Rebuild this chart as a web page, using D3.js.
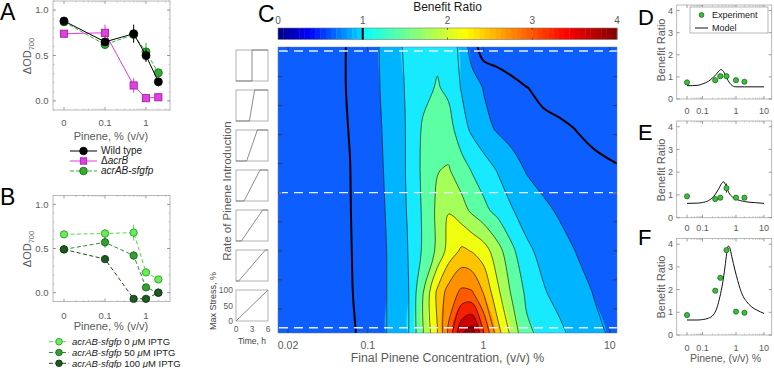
<!DOCTYPE html>
<html><head><meta charset="utf-8">
<script src="https://cdn.jsdelivr.net/npm/d3@7/dist/d3.min.js"></script>
<style>
html,body{margin:0;padding:0;background:#fff;}
svg text{font-family:"Liberation Sans", Arial, Helvetica, sans-serif;}
</style></head><body>
<svg id="fig" width="774" height="368"></svg>
<script>
// ======================= DATA =======================
// Panel A
const pinene = [0, 0.1, 0.5, 1, 2];
const wildType = [0.88, 0.65, 0.74, 0.50, 0.21];
const wildTypeErr = [0.03, 0.04, 0.10, 0.07, 0.05];
const deltaAcrB = [0.74, 0.75, 0.17, 0.03, 0.04];
const deltaAcrBErr = [0.03, 0.09, 0.08, 0.02, 0.02];
const acrABsfgfp = [0.87, 0.62, 0.73, 0.54, 0.31];
const acrABsfgfpErr = [0.02, 0.05, 0.05, 0.10, 0.04];
// Panel B
const iptg0 = [0.66, 0.67, 0.68, 0.23, 0.15];
const iptg0Err = [0.02, 0.05, 0.09, 0.03, 0.02];
const iptg50 = [0.49, 0.57, 0.42, 0.06, 0.00];
const iptg50Err = [0.04, 0.06, 0.05, 0.03, 0.02];
const iptg100 = [0.49, 0.38, -0.07, -0.07, 0.00];
const iptg100Err = [0.03, 0.04, 0.02, 0.02, 0.02];
const abTicksX = [0, 0.1, 1];
const abTickLabelsX = ["0", "0.1", "1"];
const abTicksY = [0, 0.5, 1];
const abTickLabelsY = ["0.0", "0.5", "1.0"];

// Panel C : benefit ratio grid (rows: fast -> slow introduction, cols: final concentration)
const gridConc = [0.0163, 0.02, 0.03, 0.05, 0.07, 0.1, 0.13, 0.17, 0.22, 0.3, 0.4, 0.5, 0.65, 0.8, 1, 1.3, 1.7, 2.2, 3, 4, 5.5, 7.5, 11.4];
const benefitRow0 = [0.90,0.91,0.93,0.97,1.01,1.12,1.27,1.42,1.55,1.65,1.70,1.66,1.42,1.12,0.88,0.85,0.82,0.80,0.78,0.76,0.75,0.74,0.73];
const benefitRow1 = [0.90,0.91,0.93,0.97,1.01,1.11,1.26,1.40,1.53,1.68,1.77,1.70,1.48,1.38,1.24,1.15,1.07,1.005,0.95,0.92,0.90,0.88,0.86];
const benefitRow2 = [0.89,0.90,0.92,0.96,1.005,1.10,1.24,1.38,1.52,1.78,1.88,1.85,1.60,1.45,1.33,1.22,1.15,1.10,1.05,1.03,0.995,0.97,0.94];
const benefitRow3 = [0.89,0.90,0.92,0.96,0.998,1.10,1.22,1.38,1.52,1.80,1.99,2.02,1.85,1.73,1.62,1.48,1.35,1.23,1.15,1.10,1.06,1.03,1.01];
const benefitRow4 = [0.88,0.89,0.91,0.95,0.995,1.10,1.20,1.36,1.51,1.78,2.05,2.24,2.10,1.95,1.82,1.67,1.51,1.40,1.30,1.22,1.17,1.13,1.10];
const benefitRow5 = [0.88,0.89,0.90,0.94,0.99,1.09,1.19,1.33,1.49,1.78,2.05,2.35,2.55,2.49,2.38,2.10,1.80,1.55,1.43,1.34,1.24,1.18,1.12];
const benefitRow6 = [0.87,0.88,0.90,0.94,0.985,1.08,1.18,1.34,1.45,1.98,2.55,2.85,3.05,3.02,2.74,2.30,1.95,1.70,1.52,1.42,1.33,1.24,1.16];
const benefitRow7 = [0.86,0.87,0.90,0.93,0.97,1.06,1.19,1.33,1.45,1.98,2.49,3.05,3.72,3.90,3.28,2.60,2.15,1.80,1.68,1.55,1.42,1.30,1.20];
const benefitGrid = [benefitRow0, benefitRow1, benefitRow2, benefitRow3, benefitRow4, benefitRow5, benefitRow6, benefitRow7];
const fillLevels = [1.25, 1.5, 1.75, 2.0, 2.25, 2.5, 2.75, 3.0, 3.25, 3.5, 3.75];
const unityLevel = 1;
const cTicksX = [0.02, 0.1, 1, 10];
const cTickLabelsX = ["0.02", "0.1", "1", "10"];
const rateTicks = [1, 2, 3, 4, 5, 6, 7, 8, 9];
const colorbarTicks = [0, 1, 2, 3, 4];
const rampDurations = [0, 1, 2, 3, 4, 5, 6];   // hours of linear ramp (thumbnails)
const sliceRates = [0.12, 5, 9.65];             // dashed lines (D, E, F)

// Panels D-F
const expConc = [0, 0.24, 0.34, 0.52, 1, 2];
const expD = [0.75, 0.85, 1.03, 1.03, 0.85, 0.78];
const expDErr = [0.04, 0.05, 0.05, 0.05, 0.04, 0.08];
const expE = [0.94, 0.82, 0.88, 1.30, 0.88, 0.88];
const expEErr = [0.03, 0.03, 0.03, 0.20, 0.08, 0.05];
const expF = [0.88, 1.95, 2.52, 3.74, 1.03, 0.98];
const expFErr = [0.03, 0.05, 0.10, 0.06, 0.05, 0.08];
const modelDConc = [0, 0.05, 0.1, 0.15, 0.2, 0.25, 0.3, 0.36, 0.45, 0.55, 0.7, 0.85, 1, 2, 10];
const modelD = [0.60, 0.62, 0.68, 0.80, 0.95, 1.10, 1.24, 1.33, 1.18, 0.90, 0.66, 0.57, 0.55, 0.55, 0.55];
const modelEConc = [0, 0.05, 0.1, 0.15, 0.22, 0.3, 0.37, 0.42, 0.5, 0.6, 0.8, 1, 2, 5, 10];
const modelE = [0.63, 0.64, 0.67, 0.75, 0.95, 1.25, 1.50, 1.58, 1.42, 1.12, 0.90, 0.82, 0.71, 0.66, 0.63];
const modelFConc = [0, 0.05, 0.1, 0.15, 0.21, 0.27, 0.33, 0.4, 0.47, 0.53, 0.59, 0.65, 0.75, 0.93, 1.15, 1.39, 1.8, 2.4, 3.5, 5.5, 10];
const modelF = [0.66, 0.66, 0.68, 0.74, 0.88, 1.20, 1.68, 2.30, 3.00, 3.60, 3.92, 3.85, 3.45, 2.86, 2.40, 2.05, 1.70, 1.47, 1.25, 1.10, 0.95];
const defTicksX = [0, 0.1, 1, 10];
const defTickLabelsX = ["0", "0.1", "1", "10"];
const defTicksY = [0, 1, 2, 3, 4];

// ======================= STYLE =======================
const GRAY = "#5a5a5a", AXC = "#a9a9a9";
const bandColors = ["#00b4ff", "#17e9ff", "#5cffa3", "#a6ff59", "#f0ff10", "#ffc400", "#ff9000", "#ff5a00", "#f52000", "#cc0000", "#8f0000"];
const baseBlue = "#0d5efe";

const svg = d3.select("#fig");

function txt(x, y, s, o = {}) {
  const t = svg.append("text").attr("x", x).attr("y", y)
    .attr("font-size", o.size || 10).attr("fill", o.fill || GRAY)
    .attr("text-anchor", o.anchor || "start");
  if (o.rotate) t.attr("transform", `rotate(-90 ${x} ${y})`);
  if (Array.isArray(s)) {
    s.forEach(seg => {
      const ts = t.append("tspan").text(seg[0]);
      if (seg[1]) ts.attr("font-style", "italic");
      if (seg[2]) ts.attr("font-size", seg[2]);
      if (seg[3]) ts.attr("dy", seg[3]);
    });
  } else t.text(s);
  return t;
}
function hline(g, x1, x2, y, c, w) { g.append("line").attr("x1", x1).attr("x2", x2).attr("y1", y).attr("y2", y).attr("stroke", c).attr("stroke-width", w); }
function vline(g, x, y1, y2, c, w) { g.append("line").attr("x1", x).attr("x2", x).attr("y1", y1).attr("y2", y2).attr("stroke", c).attr("stroke-width", w); }

// ======================= PANELS A & B =======================
const xAB = d3.scaleLog().domain([0.01, 1]).range([64, 146]);
const pAB = v => xAB(v === 0 ? 0.01 : v);
const minorLog = [0.02,0.03,0.04,0.05,0.06,0.07,0.08,0.09,0.2,0.3,0.4,0.5,0.6,0.7,0.8,0.9,2,3];

function abAxes(top, bottom, y, tickBase) {
  const g = svg.append("g");
  g.append("rect").attr("x", 53).attr("y", top).attr("width", 117).attr("height", bottom - top)
    .attr("fill", "none").attr("stroke", AXC).attr("stroke-width", 0.8);
  minorLog.forEach(v => { vline(g, pAB(v), top, top + 1.5, AXC, 0.6); vline(g, pAB(v), bottom, bottom - 1.5, AXC, 0.6); });
  abTicksX.forEach((v, i) => {
    vline(g, pAB(v), top, top + 3, "#777", 0.7); vline(g, pAB(v), bottom, bottom - 3, "#777", 0.7);
    txt(pAB(v), tickBase, abTickLabelsX[i], { anchor: "middle", size: 9.5 });
  });
  d3.range(-0.1, 1.1001, 0.1).forEach(v => { hline(g, 53, 54.5, y(v), AXC, 0.6); hline(g, 170, 168.5, y(v), AXC, 0.6); });
  abTicksY.forEach((v, i) => {
    hline(g, 53, 56, y(v), "#777", 0.7); hline(g, 170, 167, y(v), "#777", 0.7);
    txt(48.5, y(v) + 3.4, abTickLabelsY[i], { anchor: "end", size: 9.5 });
  });
}
function series(xs, ys, errs, y, st) {
  const g = svg.append("g");
  const line = d3.line().x((d, i) => pAB(xs[i])).y(d => y(d));
  g.append("path").attr("d", line(ys)).attr("fill", "none").attr("stroke", st.line).attr("stroke-width", 1)
    .attr("stroke-dasharray", st.dash || null);
  ys.forEach((v, i) => vline(g, pAB(xs[i]), y(v - errs[i]), y(v + errs[i]), st.line, 1));
  ys.forEach((v, i) => {
    if (st.square) g.append("rect").attr("x", pAB(xs[i]) - 3.6).attr("y", y(v) - 3.6).attr("width", 7.2).attr("height", 7.2)
      .attr("fill", st.fill).attr("stroke", st.edge).attr("stroke-width", 0.8);
    else g.append("circle").attr("cx", pAB(xs[i])).attr("cy", y(v)).attr("r", st.r || 4)
      .attr("fill", st.fill).attr("stroke", st.edge).attr("stroke-width", 0.8);
  });
}
function legendRow(x1, x2, yy, st, label, size, tx) {
  const g = svg.append("g");
  g.append("line").attr("x1", x1).attr("x2", x2).attr("y1", yy).attr("y2", yy).attr("stroke", st.line)
    .attr("stroke-width", 1).attr("stroke-dasharray", st.dash || null);
  const cx = (x1 + x2) / 2;
  if (st.square) g.append("rect").attr("x", cx - 3.2).attr("y", yy - 3.2).attr("width", 6.4).attr("height", 6.4).attr("fill", st.fill).attr("stroke", st.edge).attr("stroke-width", 0.8);
  else g.append("circle").attr("cx", cx).attr("cy", yy).attr("r", st.legR || st.r || 3.8).attr("fill", st.fill).attr("stroke", st.edge).attr("stroke-width", 0.8);
  txt(tx, yy + 3.3, label, { size: size, fill: "#1a1a1a" });
}

const stWT = { line: "#000", fill: "#000", edge: "#000" };
const stAcrB = { line: "#e23ce2", fill: "#e040e0", edge: "#9a1a9a", square: true };
const stGfp = { line: "#35b035", fill: "#2fae2f", edge: "#1a5e1a", dash: "4,2" };
const st0 = { line: "#55dd44", fill: "#66ee55", edge: "#2c8a2c", dash: "4,2.5", r: 3.7, legR: 3.3 };
const st50 = { line: "#2e8b2e", fill: "#33a033", edge: "#1c5a1c", dash: "4,2.5", r: 3.7, legR: 3.3 };
const st100 = { line: "#1f4a1f", fill: "#1d5a1d", edge: "#0f2f0f", dash: "4,2.5", r: 3.7, legR: 3.3 };

// A
const yA = d3.scaleLinear().domain([-0.1, 1.1]).range([110, 1]);
abAxes(1, 110, yA, 126);
series(pinene, acrABsfgfp, acrABsfgfpErr, yA, stGfp);
series(pinene, deltaAcrB, deltaAcrBErr, yA, stAcrB);
series(pinene, wildType, wildTypeErr, yA, stWT);
txt(111, 140, "Pinene, % (v/v)", { anchor: "middle", size: 11 });
txt(31, 56, [["ΔOD"], ["700", false, 7.5, 3]], { anchor: "middle", size: 11, rotate: true });
legendRow(70, 97, 151, stWT, "Wild type", 10, 101);
legendRow(70, 97, 161, stAcrB, [["Δ"], ["acrB", true]], 10, 101);
legendRow(70, 97, 171, stGfp, [["acrAB-sfgfp", true]], 10, 101);
txt(0, 20, "A", { size: 23, fill: "#000" });

// B
const yB = d3.scaleLinear().domain([-0.1, 1.1]).range([301.5, 195.5]);
abAxes(195.5, 301.5, yB, 318.5);
series(pinene, iptg0, iptg0Err, yB, st0);
series(pinene, iptg50, iptg50Err, yB, st50);
series(pinene, iptg100, iptg100Err, yB, st100);
txt(111, 330, "Pinene, % (v/v)", { anchor: "middle", size: 11 });
txt(31, 249, [["ΔOD"], ["700", false, 7.5, 3]], { anchor: "middle", size: 11, rotate: true });
legendRow(49, 69, 341.7, st0, [["acrAB-sfgfp", true], [" 0 "], ["μ", true], ["M IPTG"]], 9.5, 72);
legendRow(49, 69, 352.5, st50, [["acrAB-sfgfp", true], [" 50 "], ["μ", true], ["M IPTG"]], 9.5, 72);
legendRow(49, 69, 363.3, st100, [["acrAB-sfgfp", true], [" 100 "], ["μ", true], ["M IPTG"]], 9.5, 72);
txt(0, 205, "B", { size: 23, fill: "#000" });

// ======================= PANEL C =======================
const C = { x0: 278, x1: 617, y0: 47, y1: 333 };
const xC = d3.scaleLinear()
  .domain([Math.log10(0.0163), Math.log10(0.02), -1, 0, Math.log10(11.4)])
  .range([278, 288, 367.7, 483.3, 617]);
const rateScale = d3.scaleLinear().domain([0, 9.83]).range([47.5, 333]);
const nx = gridConc.length, ny = benefitGrid.length;
const rowScale = d3.scaleLinear().domain([0, ny - 1]).range([C.y0, C.y1]);
const gridLog = gridConc.map(Math.log10);
const flat = benefitGrid.flat();
function toPx(p) {
  const sx = Math.max(0, Math.min(nx - 1, p[0] - 0.5));
  const i = Math.min(nx - 2, Math.floor(sx)), f = sx - i;
  const lg = gridLog[i] * (1 - f) + gridLog[i + 1] * f;
  const sy = Math.max(0, Math.min(ny - 1, p[1] - 0.5));
  return [xC(lg), rowScale(sy)];
}
function dedupe(pts) {
  const out = [];
  pts.forEach(p => { const q = out[out.length - 1]; if (!q || Math.abs(q[0] - p[0]) > 0.05 || Math.abs(q[1] - p[1]) > 0.05) out.push(p); });
  return out;
}
const defs = svg.append("defs");
defs.append("clipPath").attr("id", "clipC").append("rect").attr("x", C.x0).attr("y", C.y0).attr("width", C.x1 - C.x0).attr("height", C.y1 - C.y0);
const gC = svg.append("g").attr("clip-path", "url(#clipC)");
gC.append("rect").attr("x", C.x0).attr("y", C.y0).attr("width", C.x1 - C.x0).attr("height", C.y1 - C.y0).attr("fill", baseBlue);

const closedCurve = d3.line().curve(d3.curveCatmullRomClosed.alpha(0.5));
const openCurve = d3.line().curve(d3.curveCatmullRom.alpha(0.5));
const fills = d3.contours().size([nx, ny]).thresholds(fillLevels)(flat);
fills.forEach((c, k) => {
  const d = c.coordinates.map(poly => poly.map(ring => {
    const pts = dedupe(ring.slice(0, -1).map(toPx));
    return pts.length > 2 ? closedCurve(pts) : "";
  }).join("")).join("");
  gC.append("path").attr("d", d).attr("fill", bandColors[k]).attr("fill-rule", "evenodd").attr("stroke", bandColors[k]).attr("stroke-width", 0.3);
});
function drawLevel(level, width) {
  const c = d3.contours().size([nx, ny]).thresholds([level])(flat)[0];
  const onB = p => p[0] <= 0.5 || p[0] >= nx - 0.5 || p[1] <= 0.5 || p[1] >= ny - 0.5;
  const emit = run => {
    const pts = dedupe(run.map(toPx));
    if (pts.length > 1) gC.append("path").attr("d", openCurve(pts)).attr("fill", "none").attr("stroke", "#000").attr("stroke-width", width);
  };
  c.coordinates.forEach(poly => poly.forEach(ring => {
    const pts = ring.slice(0, -1);
    if (!pts.some(onB)) {
      const pp = dedupe(pts.map(toPx));
      if (pp.length > 2) gC.append("path").attr("d", closedCurve(pp)).attr("fill", "none").attr("stroke", "#000").attr("stroke-width", width);
      return;
    }
    const s = pts.findIndex(onB);
    const rot = pts.slice(s).concat(pts.slice(0, s + 1));
    let run = [];
    for (let i = 0; i < rot.length - 1; i++) {
      const a = rot[i], b = rot[i + 1];
      if (onB(a) && onB(b)) { if (run.length > 1) emit(run); run = []; continue; }
      if (run.length === 0) run.push(a);
      run.push(b);
    }
    if (run.length > 1) emit(run);
  }));
}
fillLevels.forEach(l => drawLevel(l, 0.6));
drawLevel(unityLevel, 2);

// dashed slice lines
sliceRates.forEach(r => {
  gC.append("line").attr("x1", C.x0 + 1).attr("x2", C.x1).attr("y1", rateScale(r)).attr("y2", rateScale(r))
    .attr("stroke", "#e6eeff").attr("stroke-width", 1.3).attr("stroke-dasharray", "9,6");
});
// frame + ticks
const gCa = svg.append("g");
gCa.append("rect").attr("x", C.x0).attr("y", C.y0).attr("width", C.x1 - C.x0).attr("height", C.y1 - C.y0)
  .attr("fill", "none").attr("stroke", "#6b7aa0").attr("stroke-width", 0.5);
rateTicks.forEach(r => { hline(gCa, C.x0, C.x0 + 4, rateScale(r), "#333", 0.8); hline(gCa, C.x1, C.x1 - 4, rateScale(r), "#333", 0.8); });
cTicksX.forEach((v, i) => {
  const x = xC(Math.log10(v));
  vline(gCa, x, C.y1, C.y1 - 4, "#333", 0.8); vline(gCa, x, C.y0, C.y0 + 4, "#333", 0.8);
  txt(x, 349, cTickLabelsX[i], { anchor: "middle", size: 10.5 });
});
txt(447.5, 362, "Final Pinene Concentration, (v/v) %", { anchor: "middle", size: 12.3 });
txt(231, 191, "Rate of Pinene Introduction", { anchor: "middle", size: 11.5, rotate: true });

// colorbar
const cb = d3.scaleLinear().domain([0, 4]).range([278, 617]);
function jet(t) {
  const c = v => Math.max(0, Math.min(1, v));
  return d3.rgb(255 * c(Math.min(4 * t - 1.5, -4 * t + 4.5)), 255 * c(Math.min(4 * t - 0.5, -4 * t + 3.5)), 255 * c(Math.min(4 * t + 0.5, -4 * t + 2.5)));
}
const benefitColor = v => jet(v <= 1 ? v * 0.34 : 0.375 + (v - 1) * 0.625 / 3);
const nSteps = 64;
const gCb = svg.append("g");
d3.range(nSteps).forEach(k => {
  const v0 = 4 * k / nSteps, v1 = 4 * (k + 1) / nSteps;
  gCb.append("rect").attr("x", cb(v0)).attr("y", 28).attr("width", cb(v1) - cb(v0) + 0.4).attr("height", 11.5)
    .attr("fill", benefitColor((v0 + v1) / 2));
});
gCb.append("rect").attr("x", 278).attr("y", 28).attr("width", 339).attr("height", 11.5).attr("fill", "none").attr("stroke", "#777").attr("stroke-width", 0.6);
colorbarTicks.forEach(v => {
  if (v > 1 && v < 4) { vline(gCb, cb(v), 28, 30, "#333", 0.7); vline(gCb, cb(v), 39.5, 37.5, "#333", 0.7); }
  txt(cb(v), 23.5, String(v), { anchor: "middle", size: 10 });
});
vline(gCb, cb(1), 28, 39.5, "#000", 2);
txt(447.5, 10.5, "Benefit Ratio", { anchor: "middle", size: 12, fill: "#1a1a1a" });
txt(258, 22, "C", { size: 23, fill: "#000" });

// thumbnails
const thumbX = d3.scaleLinear().domain([0, 6]).range([236, 268]);
const thumbTop = d3.scaleLinear().domain([0, 6]).range([50, 290]);
const gT = svg.append("g");
rampDurations.forEach(d => {
  const t0 = thumbTop(d), h = 31;
  const ty = d3.scaleLinear().domain([0, 100]).range([t0 + h, t0]);
  gT.append("rect").attr("x", 236).attr("y", t0).attr("width", 32).attr("height", h).attr("fill", "#fff").attr("stroke", "#a0a0a0").attr("stroke-width", 0.8);
  const pts = [[0, 0], [3 - d / 2, 0], [3 + d / 2, 100], [6, 100]];
  gT.append("path").attr("d", d3.line().x(p => thumbX(p[0])).y(p => ty(p[1]))(pts)).attr("fill", "none").attr("stroke", "#707070").attr("stroke-width", 0.8);
  if (d === 6) {
    [100, 50, 0].forEach(v => txt(233, ty(v) + 3, String(v), { anchor: "end", size: 8.5 }));
    [0, 3, 6].forEach(v => txt(thumbX(v), 332, String(v), { anchor: "middle", size: 8.5 }));
  }
});
txt(252, 343.5, "Time, h", { anchor: "middle", size: 8.5, fill: "#444" });
txt(216, 301, "Max Stress, %", { anchor: "middle", size: 9, rotate: true, fill: "#444" });

// ======================= PANELS D, E, F =======================
const xDEF = d3.scaleLinear().domain([-2, -1, 0, 1]).range([687, 702.5, 736, 764]);
const pDEF = v => xDEF(Math.log10(Math.max(v, 0.01)));
const minorDEF = [0.02,0.03,0.04,0.05,0.06,0.07,0.08,0.09,0.2,0.3,0.4,0.5,0.6,0.7,0.8,0.9,2,3,4,5,6,7,8,9];
const stExp = { fill: "#38c038", edge: "#1a5a1a" };
function defPanel(cfg) {
  const { top, bottom, exp, err, mx, my, letter, letterY, tickBase, labelY } = cfg;
  const y = d3.scaleLinear().domain([0, 4.25]).range([bottom, top]);
  const g = svg.append("g");
  g.append("rect").attr("x", 676.7).attr("y", top).attr("width", 95).attr("height", bottom - top).attr("fill", "none").attr("stroke", AXC).attr("stroke-width", 0.8);
  minorDEF.forEach(v => { vline(g, pDEF(v), top, top + 1.5, AXC, 0.6); vline(g, pDEF(v), bottom, bottom - 1.5, AXC, 0.6); });
  defTicksX.forEach((v, i) => {
    vline(g, pDEF(v), top, top + 3, "#777", 0.7); vline(g, pDEF(v), bottom, bottom - 3, "#777", 0.7);
    txt(pDEF(v), tickBase, defTickLabelsX[i], { anchor: "middle", size: 9 });
  });
  defTicksY.forEach(v => {
    hline(g, 676.7, 679.7, y(v), "#777", 0.7); hline(g, 771.7, 768.7, y(v), "#777", 0.7);
    txt(673, y(v) + 3.2, String(v), { anchor: "end", size: 9 });
  });
  const line = d3.line().curve(d3.curveMonotoneX).x((d, i) => pDEF(mx[i])).y(d => y(d));
  g.append("path").attr("d", line(my)).attr("fill", "none").attr("stroke", "#111").attr("stroke-width", 1);
  exp.forEach((v, i) => vline(g, pDEF(expConc[i]), y(v - err[i]), y(v + err[i]), "#222", 0.9));
  exp.forEach((v, i) => g.append("circle").attr("cx", pDEF(expConc[i])).attr("cy", y(v)).attr("r", 2.6)
    .attr("fill", stExp.fill).attr("stroke", stExp.edge).attr("stroke-width", 0.7));
  txt(665, labelY, "Benefit Ratio", { anchor: "middle", size: 11, rotate: true });
  txt(638, letterY, letter, { size: 22, fill: "#000" });
  return g;
}
defPanel({ top: 5, bottom: 99, exp: expD, err: expDErr, mx: modelDConc, my: modelD, letter: "D", letterY: 25, tickBase: 113.5, labelY: 50 });
defPanel({ top: 121, bottom: 217.7, exp: expE, err: expEErr, mx: modelEConc, my: modelE, letter: "E", letterY: 140, tickBase: 231, labelY: 170 });
defPanel({ top: 238.5, bottom: 335, exp: expF, err: expFErr, mx: modelFConc, my: modelF, letter: "F", letterY: 245, tickBase: 351, labelY: 287 });
txt(725.5, 362, "Pinene, (v/v) %", { anchor: "middle", size: 10.5 });
// legend D
const gL = svg.append("g");
gL.append("rect").attr("x", 690).attr("y", 7).attr("width", 78).attr("height", 26).attr("fill", "#fff").attr("stroke", "#999").attr("stroke-width", 0.7);
gL.append("circle").attr("cx", 701.5).attr("cy", 15).attr("r", 2.4).attr("fill", stExp.fill).attr("stroke", stExp.edge).attr("stroke-width", 0.7);
hline(gL, 695, 708, 28, "#111", 1);
txt(712, 18.3, "Experiment", { size: 9, fill: "#1a1a1a" });
txt(712, 31.3, "Model", { size: 9, fill: "#1a1a1a" });
</script>
</body></html>
